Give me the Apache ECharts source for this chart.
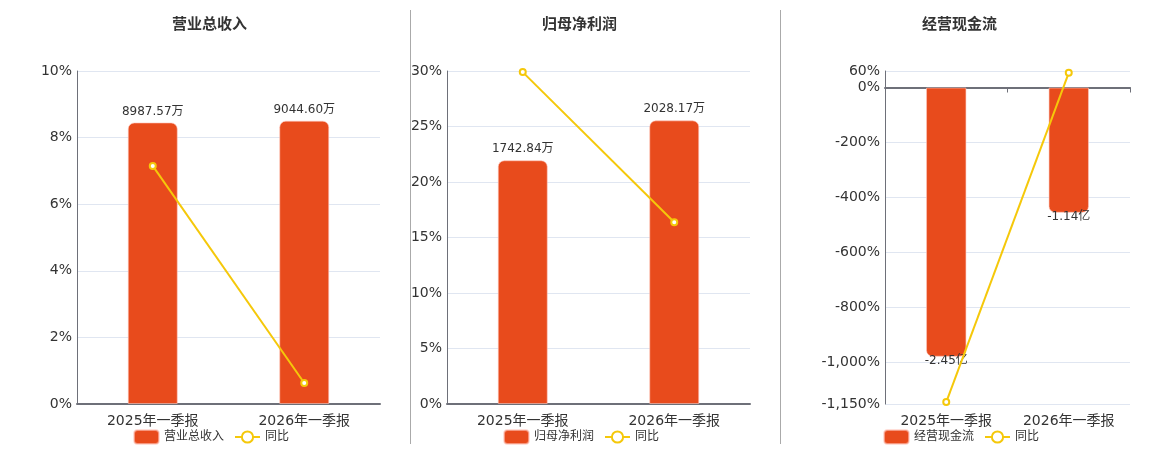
<!DOCTYPE html>
<html>
<head>
<meta charset="utf-8">
<script src="https://cdn.jsdelivr.net/npm/echarts@6/dist/echarts.min.js"></script>
<style>
    html, body { margin: 0; padding: 0; background: #fff; }
    #main { width: 1160px; height: 450px; }
</style>
</head>
<body>
<div id="main"></div>
<script>
// 数据
var categories = ['2025年一季报', '2026年一季报'];
var revenue = [8987.57, 9044.60];      // 营业总收入（万）
var revenueYoy = [7.15, 0.63];         // 同比 %
var profit = [1742.84, 2028.17];       // 归母净利润（万）
var profitYoy = [29.9, 16.37];
var cashFlow = [-2.45, -1.14];         // 经营现金流（亿）
var cashFlowYoy = [-1143, 53.47];
var cashTicks = [60, 0, -200, -400, -600, -800, -1000, -1150];

var barColor = '#E84B1C';
var lineColor = '#F5C80A';
var font = "'DejaVu Sans', 'Noto Sans CJK SC', sans-serif";

var myChart = echarts.init(document.getElementById('main'));

function pctLabel(v) {
    return echarts.format.addCommas(v) + '%';
}

function pctAxis(grid, min, max, interval) {
    return {
        type: 'value', gridIndex: grid, min: min, max: max, interval: interval,
        axisLine: { show: true, lineStyle: { color: '#6E7079' } },
        axisTick: { show: false },
        axisLabel: { color: '#333', fontSize: 14, margin: 5, formatter: pctLabel },
        splitLine: { lineStyle: { color: '#E0E6F1' } }
    };
}

function barAxis(grid, min, max) {
    return { type: 'value', gridIndex: grid, min: min, max: max, show: false, splitLine: { show: false } };
}

function catAxis(grid) {
    return {
        type: 'category', gridIndex: grid, data: categories,
        axisLine: { lineStyle: { color: '#6E7079', width: 2 } },
        axisTick: { lineStyle: { color: '#6E7079' } },
        axisLabel: { color: '#333', fontSize: 14, margin: 10 }
    };
}

function barSeries(name, x, y, data, unit, negative) {
    return {
        name: name, type: 'bar', xAxisIndex: x, yAxisIndex: y, data: data,
        barWidth: '33%',
        itemStyle: {
            color: barColor,
            borderColor: 'rgba(255,200,190,0.6)', borderWidth: 1,
            borderRadius: negative ? [0, 0, 6, 6] : [6, 6, 0, 0]
        },
        label: {
            show: true, position: negative ? 'bottom' : 'top', distance: negative ? -2 : 5,
            color: '#333', fontSize: 12,
            formatter: function (p) { return p.value.toFixed(2) + unit; }
        }
    };
}

function lineSeries(x, y, data) {
    return {
        name: '同比', type: 'line', xAxisIndex: x, yAxisIndex: y, data: data,
        symbol: 'emptyCircle', symbolSize: 6,
        lineStyle: { color: lineColor, width: 2 },
        itemStyle: { color: lineColor, borderWidth: 2 }
    };
}

function legend(left, name) {
    return {
        left: left, top: 424, itemWidth: 25, itemHeight: 14, itemGap: 10,
        textStyle: { color: '#333', fontSize: 12 },
        data: [{ name: name, icon: 'roundRect' }, '同比']
    };
}

function title(text, left) {
    return { text: text, left: left, top: 13, textStyle: { fontSize: 15, fontWeight: 'bold', color: '#333' } };
}

var cashAxis = pctAxis(2, -1150, 60);
cashAxis.axisLabel.customValues = cashTicks;
cashAxis.axisTick = { show: false, customValues: cashTicks };
cashAxis.splitLine.customValues = cashTicks;

var option = {
    textStyle: { fontFamily: font },
    animation: false,
    title: [
        title('营业总收入', 167),
        title('归母净利润', 537),
        title('经营现金流', 917)
    ],
    legend: [
        legend(128, '营业总收入'),
        legend(498, '归母净利润'),
        legend(878, '经营现金流')
    ],
    grid: [
        { left: 77, right: 780, top: 71, bottom: 46 },
        { left: 447, right: 410, top: 71, bottom: 46 },
        { left: 885, right: 30, top: 71, bottom: 46 }
    ],
    xAxis: [
        catAxis(0),
        catAxis(1),
        {
            type: 'category', gridIndex: 2, data: categories,
            axisLine: { onZero: true, onZeroAxisIndex: 4, lineStyle: { color: '#6E7079', width: 2 } },
            axisTick: { show: true, length: 5, lineStyle: { color: '#6E7079' } },
            axisLabel: { show: false }
        },
        {
            type: 'category', gridIndex: 2, data: categories, position: 'bottom',
            axisLine: { show: false, onZero: false },
            axisTick: { show: false },
            axisLabel: { color: '#333', fontSize: 14, margin: 10 }
        }
    ],
    yAxis: [
        pctAxis(0, 0, 10, 2),
        barAxis(0, 0, 10630),
        pctAxis(1, 0, 30, 5),
        barAxis(1, 0, 2381),
        cashAxis,
        barAxis(2, -2.88, 0.1503)
    ],
    graphic: [
        { type: 'line', shape: { x1: 410.5, y1: 10, x2: 410.5, y2: 444 }, style: { stroke: '#aaa', lineWidth: 1 } },
        { type: 'line', shape: { x1: 780.5, y1: 10, x2: 780.5, y2: 444 }, style: { stroke: '#aaa', lineWidth: 1 } }
    ],
    series: [
        barSeries('营业总收入', 0, 1, revenue, '万', false),
        lineSeries(0, 0, revenueYoy),
        barSeries('归母净利润', 1, 3, profit, '万', false),
        lineSeries(1, 2, profitYoy),
        barSeries('经营现金流', 2, 5, cashFlow, '亿', true),
        lineSeries(2, 4, cashFlowYoy)
    ]
};

myChart.setOption(option);
</script>
</body>
</html>
